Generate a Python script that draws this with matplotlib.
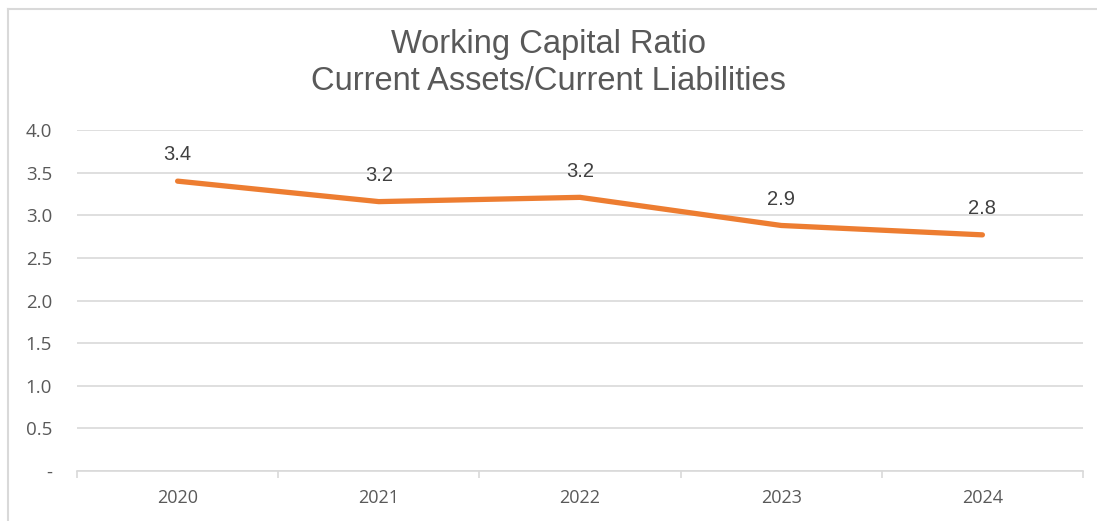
import matplotlib
matplotlib.use("Agg")
import matplotlib.pyplot as plt
from matplotlib.lines import Line2D
from matplotlib.ticker import FixedLocator

years = ["2020", "2021", "2022", "2023", "2024"]
ratios = [3.40, 3.16, 3.21, 2.88, 2.77]
labels = ["3.4", "3.2", "3.2", "2.9", "2.8"]
yticks = [0, 0.5, 1.0, 1.5, 2.0, 2.5, 3.0, 3.5, 4.0]
ytick_labels = ["-", "0.5", "1.0", "1.5", "2.0", "2.5", "3.0", "3.5", "4.0"]

W, H = 1097, 521
fig = plt.figure(figsize=(W / 100, H / 100), dpi=100)
fig.patch.set_facecolor("white")
ax = fig.add_axes([77 / W, 1 - 471 / H, (1083 - 77) / W, (471 - 130) / H])

x = list(range(len(years)))
ax.plot(x, ratios, color="#ED7D31", lw=3.8, solid_capstyle="round", solid_joinstyle="round", zorder=3)
for xi, v, lab in zip(x, ratios, labels):
    ax.annotate(lab, (xi, v), xytext=(0, 12), textcoords="offset points", ha="center", va="bottom",
                fontsize=14.5, color="#404040", family="Liberation Sans")

ax.set_xlim(-0.5, len(years) - 0.5)
ax.set_ylim(0, 4.0)
ax.set_yticks(yticks)
ax.set_yticklabels(ytick_labels)
ax.set_xticks(x)
ax.set_xticklabels(years)
ax.xaxis.set_minor_locator(FixedLocator([i - 0.5 for i in range(len(years) + 1)]))
ax.tick_params(axis="x", which="major", length=0, pad=13, labelsize=13, labelcolor="#595959")
ax.tick_params(axis="x", which="minor", length=5, color="#d9d9d9", width=1.2)
ax.tick_params(axis="y", length=0, pad=18, labelsize=13.5, labelcolor="#595959")
for lab in ax.get_xticklabels() + ax.get_yticklabels():
    lab.set_family("Open Sans")
ax.grid(axis="y", color="#d9d9d9", lw=1.2)
ax.set_axisbelow(True)
for s in ["left", "right", "top"]:
    ax.spines[s].set_visible(False)
ax.spines["bottom"].set_color("#d9d9d9")
ax.spines["bottom"].set_linewidth(1.2)

fig.text(0.5, 1 - 45 / H, "Working Capital Ratio", ha="center", va="center", fontsize=23.5,
         color="#595959", family="Liberation Sans")
fig.text(0.5, 1 - 81 / H, "Current Assets/Current Liabilities", ha="center", va="center", fontsize=23.5,
         color="#595959", family="Liberation Sans")

# outer frame (top and left edges visible)
fig.add_artist(Line2D([8 / W, 1], [1 - 9 / H, 1 - 9 / H], transform=fig.transFigure, color="#d9d9d9", lw=1.5))
fig.add_artist(Line2D([8 / W, 8 / W], [0, 1 - 9 / H], transform=fig.transFigure, color="#d9d9d9", lw=1.5))

fig.savefig("out.png", dpi=100)
